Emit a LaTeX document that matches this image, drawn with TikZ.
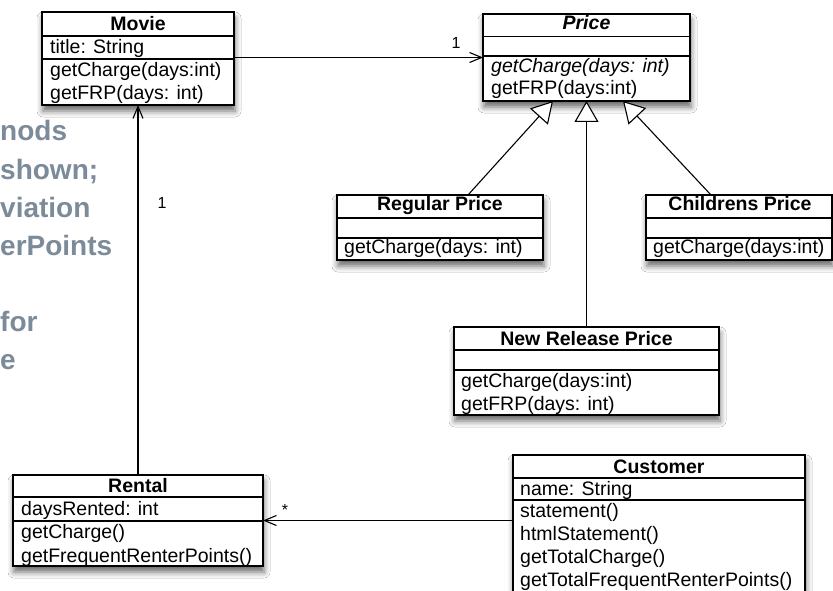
\documentclass[tikz,border=0pt]{standalone}
\usepackage{fontspec}
\setmainfont{Liberation Sans}
\usetikzlibrary{arrows.meta,shadows.blur}
\definecolor{notegray}{RGB}{124,139,153}
\begin{document}
\begin{tikzpicture}[x=1pt,y=-1pt,
 cls/.style={draw=black, line width=1.2pt, fill=white, inner sep=0pt, outer sep=0pt, anchor=north west,
   blur shadow={shadow xshift=1pt, shadow yshift=-6pt, shadow blur radius=6pt, shadow opacity=60}},
 txt/.style={anchor=base west, inner sep=0pt, font=\fontsize{19.5}{23}\selectfont},
 ttl/.style={anchor=base, inner sep=0pt, font=\fontsize{19.5}{23}\selectfont\bfseries},
 div/.style={line width=1.2pt},
 assoc/.style={line width=1.1pt, -{Straight Barb[length=12pt,width=10pt,line width=1.1pt]}},
 gen/.style={line width=1.1pt, -{Triangle[open,length=21pt,width=24pt,fill=white,line width=1.1pt]}},
 mult/.style={inner sep=1pt, font=\fontsize{16}{18}\selectfont},
 note/.style={anchor=base west, inner sep=0pt, text=notegray, font=\fontsize{28}{34}\selectfont\bfseries}
]
\clip (0,0) rectangle (833,591);
\fill[white] (0,0) rectangle (833,591);

% background note (cut off at left edge)
\node[note] (n1) at (0,141) {nods};
\node[note] (n2) at (0,179) {shown;};
\node[note] (n3) at (0,217) {viation};
\node[note] (n4) at (0,255) {erPoints};
\node[note] (n5) at (0,331) {for};
\node[note] (n6) at (0,369) {e};

% Movie
\node[cls, minimum width=192pt, minimum height=93pt] (movie) at (42,12) {};
\draw[div] (42,36) -- (234,36);
\draw[div] (42,59) -- (234,59);
\node[ttl] (movie-t) at (138,31) {Movie};
\node[txt] (movie-a) at (50,54) {title: String};
\node[txt] (movie-m1) at (50,77) {getCharge(days:int)};
\node[txt] (movie-m2) at (50,100) {getFRP(days: int)};

% Price
\node[cls, minimum width=207pt, minimum height=87pt] (price) at (483,14) {};
\draw[div] (483,36.5) -- (690,36.5);
\draw[div] (483,56) -- (690,56);
\node[ttl, font=\fontsize{19.5}{23}\selectfont\bfseries\itshape] (price-t) at (586.5,30) {Price};
\node[txt, font=\fontsize{19.5}{23}\selectfont\itshape] (price-m1) at (491,73) {getCharge(days: int)};
\node[txt] (price-m2) at (491,95) {getFRP(days:int)};

% Regular Price
\node[cls, minimum width=206pt, minimum height=65pt] (regular) at (337,195) {};
\draw[div] (337,218) -- (543,218);
\draw[div] (337,238) -- (543,238);
\node[ttl] (regular-t) at (440,210) {Regular Price};
\node[txt] (regular-m) at (344,253) {getCharge(days: int)};

% Childrens Price
\node[cls, minimum width=186pt, minimum height=65pt] (children) at (646,195) {};
\draw[div] (646,218) -- (832,218);
\draw[div] (646,238) -- (832,238);
\node[ttl] (children-t) at (740,210) {Childrens Price};
\node[txt] (children-m) at (653,253) {getCharge(days:int)};

% New Release Price
\node[cls, minimum width=265pt, minimum height=88pt] (newrel) at (454,327) {};
\draw[div] (454,350) -- (719,350);
\draw[div] (454,370) -- (719,370);
\node[ttl] (newrel-t) at (586.5,345) {New Release Price};
\node[txt] (newrel-m1) at (461,387) {getCharge(days:int)};
\node[txt] (newrel-m2) at (461,410) {getFRP(days: int)};

% Rental
\node[cls, minimum width=250pt, minimum height=91pt] (rental) at (13,475) {};
\draw[div] (13,497) -- (263,497);
\draw[div] (13,521) -- (263,521);
\node[ttl] (rental-t) at (138,492) {Rental};
\node[txt] (rental-a) at (21,515) {daysRented: int};
\node[txt] (rental-m1) at (21,538) {getCharge()};
\node[txt] (rental-m2) at (21,562) {getFrequentRenterPoints()};

% Customer
\node[cls, minimum width=292pt, minimum height=145pt] (customer) at (513,455) {};
\draw[div] (513,478) -- (805,478);
\draw[div] (513,500) -- (805,500);
\node[ttl] (customer-t) at (659,473) {Customer};
\node[txt] (customer-a) at (520,495) {name: String};
\node[txt] (customer-m1) at (520,517) {statement()};
\node[txt] (customer-m2) at (520,540) {htmlStatement()};
\node[txt] (customer-m3) at (520,563) {getTotalCharge()};
\node[txt] (customer-m4) at (520,586) {getTotalFrequentRenterPoints()};

% associations
\draw[assoc] (movie.east |- price.west) -- (price.west);
\node[mult, fill=white] (mult-price) at (456,43) {1};
\draw[assoc] (rental.north) -- (rental.north |- movie.south);
\node[mult] (mult-movie) at (162,203) {1};
\draw[assoc] (customer.west |- rental.east) -- (rental.east);
\node[mult] (mult-rental) at (285,510) {*};

% generalizations
\draw[gen] ([xshift=28pt]regular.north) -- ([xshift=-33.5pt]price.south);
\draw[gen] (newrel.north) -- (price.south);
\draw[gen] ([xshift=-28pt]children.north) -- ([xshift=36.5pt]price.south);
\end{tikzpicture}
\end{document}
